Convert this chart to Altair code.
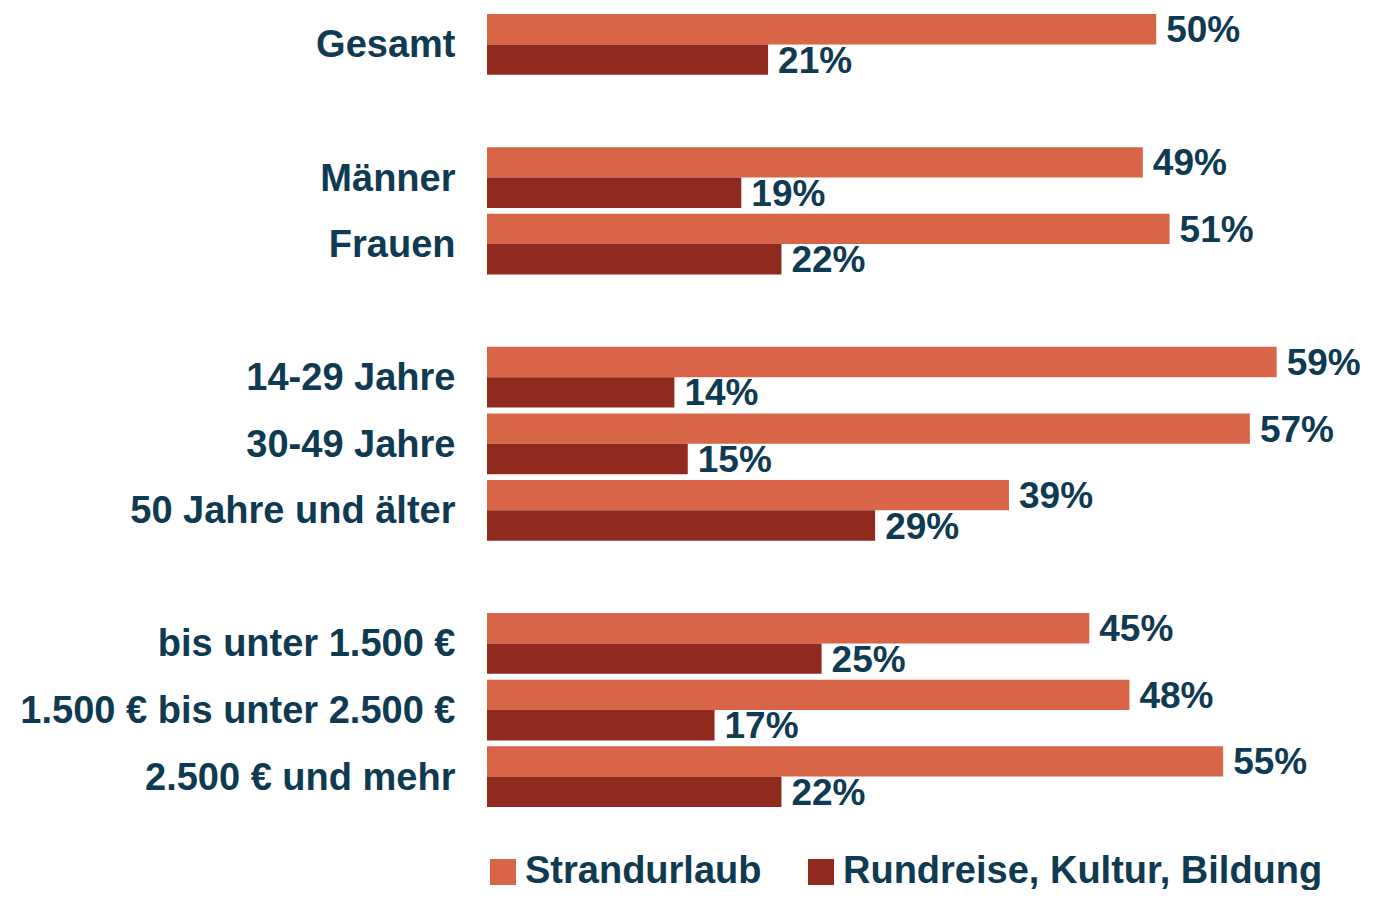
import altair as alt
import pandas as pd

categories = ["Gesamt", "gap1", "Männer", "Frauen", "gap2", "14-29 Jahre", "30-49 Jahre",
              "50 Jahre und älter", "gap3", "bis unter 1.500 €", "1.500 € bis unter 2.500 €",
              "2.500 € und mehr"]
data_cats = ["Gesamt", "Männer", "Frauen", "14-29 Jahre", "30-49 Jahre", "50 Jahre und älter",
             "bis unter 1.500 €", "1.500 € bis unter 2.500 €", "2.500 € und mehr"]
series = ["Strandurlaub", "Rundreise, Kultur, Bildung"]
strand = [50, 49, 51, 59, 57, 39, 45, 48, 55]
rundreise = [21, 19, 22, 14, 15, 29, 25, 17, 22]
colors = ["#D96548", "#912A1E"]
text_color = "#0E3A52"
font = "Liberation Sans"

rows = []
for c, a, b in zip(data_cats, strand, rundreise):
    rows.append({"cat": c, "series": series[0], "value": a, "label": f"{a}%"})
    rows.append({"cat": c, "series": series[1], "value": b, "label": f"{b}%"})
df = pd.DataFrame(rows)

y = alt.Y("cat:N", sort=categories,
          scale=alt.Scale(domain=categories, paddingInner=0.087, paddingOuter=0),
          axis=alt.Axis(title=None, domain=False, ticks=False, grid=False,
                        labelFont=font, labelFontSize=38, labelFontWeight="bold",
                        labelColor=text_color, labelPadding=32, labelOffset=2,
                        labelLimit=0,
                        labelExpr="indexof(datum.label, 'gap') == 0 ? '' : datum.label"))
yoff = alt.YOffset("series:N", sort=series, scale=alt.Scale(paddingInner=0, paddingOuter=0))
x = alt.X("value:Q", scale=alt.Scale(domain=[0, 65.6]), axis=None)

base = alt.Chart(df)

bars = base.mark_bar(cornerRadius=0).encode(
    y=y, yOffset=yoff, x=x,
    color=alt.Color("series:N", sort=series,
                    scale=alt.Scale(domain=series, range=colors),
                    legend=alt.Legend(title=None, orient="none", legendX=-3, legendY=839,
                                      direction="horizontal", symbolType="square",
                                      symbolSize=676, symbolStrokeWidth=0,
                                      labelFont=font, labelFontSize=38,
                                      labelFontWeight="bold", labelColor=text_color,
                                      labelOffset=3, columnPadding=40, labelLimit=0)),
)

labels = base.mark_text(align="left", baseline="middle", dx=10, dy=2,
                        font=font, fontSize=37, fontWeight="bold", color=text_color).encode(
    y=y, yOffset=yoff, x=x, text="label:N"
)

chart = (bars + labels).properties(
    width=878, height=793,
    autosize=alt.AutoSizeParams(type="none"),
    padding={"left": 479, "top": 6, "right": 0, "bottom": 83},
).configure(background="white", view=alt.ViewConfig(stroke=None))

chart.save("out.html", embed_options={"renderer": "svg", "actions": False})
